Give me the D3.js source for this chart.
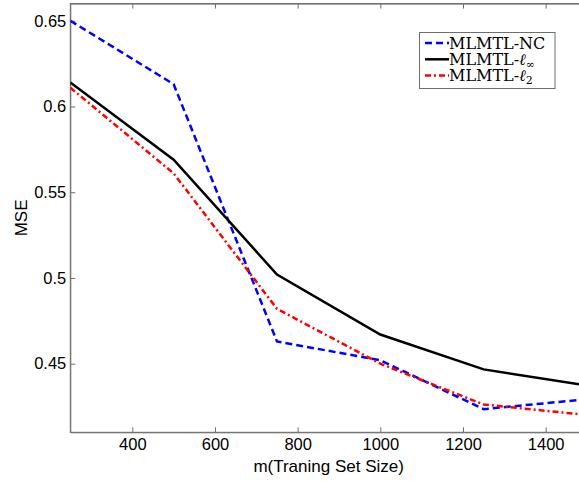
<!DOCTYPE html>
<html>
<head>
<meta charset="utf-8">
<script src="https://cdn.jsdelivr.net/npm/d3@7"></script>
<style>
  body { margin: 0; background: #fff; }
  svg { display: block; }
</style>
</head>
<body>
<svg id="chart" width="579" height="481"></svg>
<script>
// training set sizes
var sizes = [250, 500, 750, 1000, 1250, 1500];

// MSE for each method
var mseNC   = [0.650, 0.613, 0.463, 0.452, 0.4235, 0.4293];
var mseLinf = [0.614, 0.569, 0.502, 0.467, 0.4467, 0.4373];
var mseL2   = [0.611, 0.561, 0.482, 0.450, 0.4262, 0.4201];

var xTicks = [400, 600, 800, 1000, 1200, 1400];
var yTicks = [0.45, 0.5, 0.55, 0.6, 0.65];

var series = [
    { name: "NC",   values: mseNC,   color: "#0000ff", dash: "7,4" },
    { name: "linf", values: mseLinf, color: "#000000", dash: null },
    { name: "l2",   values: mseL2,   color: "#ff0000", dash: "6,3,2,3" }
];

var svg = d3.select("#chart");

var pLeft = 70.3, pTop = 3.6, pRight = 587, pBottom = 432.3;

var x = d3.scaleLinear().domain([250, 1500]).range([pLeft, pRight]);
var y = d3.scaleLinear().domain([0.41, 0.66]).range([pBottom, pTop]);

svg.append("clipPath").attr("id", "plot-clip")
    .append("rect")
    .attr("x", pLeft).attr("y", pTop)
    .attr("width", pRight - pLeft).attr("height", pBottom - pTop);

// axes (matlab style: ticks inside, on every side)
var axisColor = "#6e6e6e";

var xAxis = svg.append("g")
    .attr("transform", "translate(0," + pBottom + ")")
    .call(d3.axisBottom(x).tickValues(xTicks).tickSizeInner(-5).tickSizeOuter(0).tickPadding(6)
        .tickFormat(d3.format("d")));

var yAxis = svg.append("g")
    .attr("transform", "translate(" + pLeft + ",0)")
    .call(d3.axisLeft(y).tickValues(yTicks).tickSizeInner(-5).tickSizeOuter(0).tickPadding(4)
        .tickFormat(function(d) { return String(+d.toFixed(2)); }));

var xTop = svg.append("g")
    .attr("transform", "translate(0," + pTop + ")")
    .call(d3.axisTop(x).tickValues(xTicks).tickSizeInner(-5).tickSizeOuter(0).tickFormat(""));

var yRight = svg.append("g")
    .attr("transform", "translate(" + pRight + ",0)")
    .call(d3.axisRight(y).tickValues(yTicks).tickSizeInner(-5).tickSizeOuter(0).tickFormat(""));

[xAxis, yAxis, xTop, yRight].forEach(function(g) {
    g.selectAll("path, line").attr("stroke", axisColor).attr("stroke-width", 1);
    g.selectAll("text")
        .attr("fill", "#000")
        .style("font-family", "'Liberation Sans', Arial, sans-serif")
        .style("font-size", "16.5px");
});

// full box
svg.append("rect")
    .attr("x", pLeft).attr("y", pTop)
    .attr("width", pRight - pLeft).attr("height", pBottom - pTop)
    .attr("fill", "none").attr("stroke", axisColor).attr("stroke-width", 1);

// lines
var line = d3.line()
    .x(function(d, i) { return x(sizes[i]); })
    .y(function(d) { return y(d); });

var plot = svg.append("g").attr("clip-path", "url(#plot-clip)");

plot.selectAll(".series")
    .data(series)
    .enter().append("path")
    .attr("class", "series")
    .attr("d", function(d) { return line(d.values); })
    .attr("fill", "none")
    .attr("stroke", function(d) { return d.color; })
    .attr("stroke-width", 2.5)
    .attr("stroke-dasharray", function(d) { return d.dash; });

// axis labels
svg.append("text")
    .attr("x", (pLeft + pRight) / 2)
    .attr("y", 472)
    .attr("text-anchor", "middle")
    .style("font-family", "'Liberation Sans', Arial, sans-serif")
    .style("font-size", "17px")
    .text("m(Traning Set Size)");

svg.append("text")
    .attr("transform", "translate(27," + ((pTop + pBottom) / 2) + ") rotate(-90)")
    .attr("text-anchor", "middle")
    .style("font-family", "'Liberation Sans', Arial, sans-serif")
    .style("font-size", "17px")
    .text("MSE");

// legend
var legend = svg.append("g");
legend.append("rect")
    .attr("x", 419.5).attr("y", 32.5)
    .attr("width", 135.5).attr("height", 56)
    .attr("fill", "#fff").attr("stroke", "#6e6e6e").attr("stroke-width", 1);

var rows = legend.selectAll(".row")
    .data(series)
    .enter().append("g")
    .attr("class", "row")
    .attr("transform", function(d, i) { return "translate(0," + (43 + i * 16.3) + ")"; });

rows.append("line")
    .attr("x1", 425).attr("x2", 449)
    .attr("stroke", function(d) { return d.color; })
    .attr("stroke-width", 2.5)
    .attr("stroke-dasharray", function(d) { return d.dash; });

var labels = rows.append("text")
    .attr("x", 449)
    .attr("y", 5.5)
    .style("font-family", "'DejaVu Serif', 'Liberation Serif', serif")
    .style("font-size", "16px");

labels.each(function(d) {
    var t = d3.select(this);
    if (d.name == "NC") {
        t.append("tspan").text("MLMTL-NC");
    } else {
        t.append("tspan").text("MLMTL-");
        t.append("tspan").style("font-style", "italic").text("\u2113");
        t.append("tspan")
            .attr("dy", 3)
            .style("font-size", "11px")
            .text(d.name == "linf" ? "\u221e" : "2");
    }
});
</script>
</body>
</html>
